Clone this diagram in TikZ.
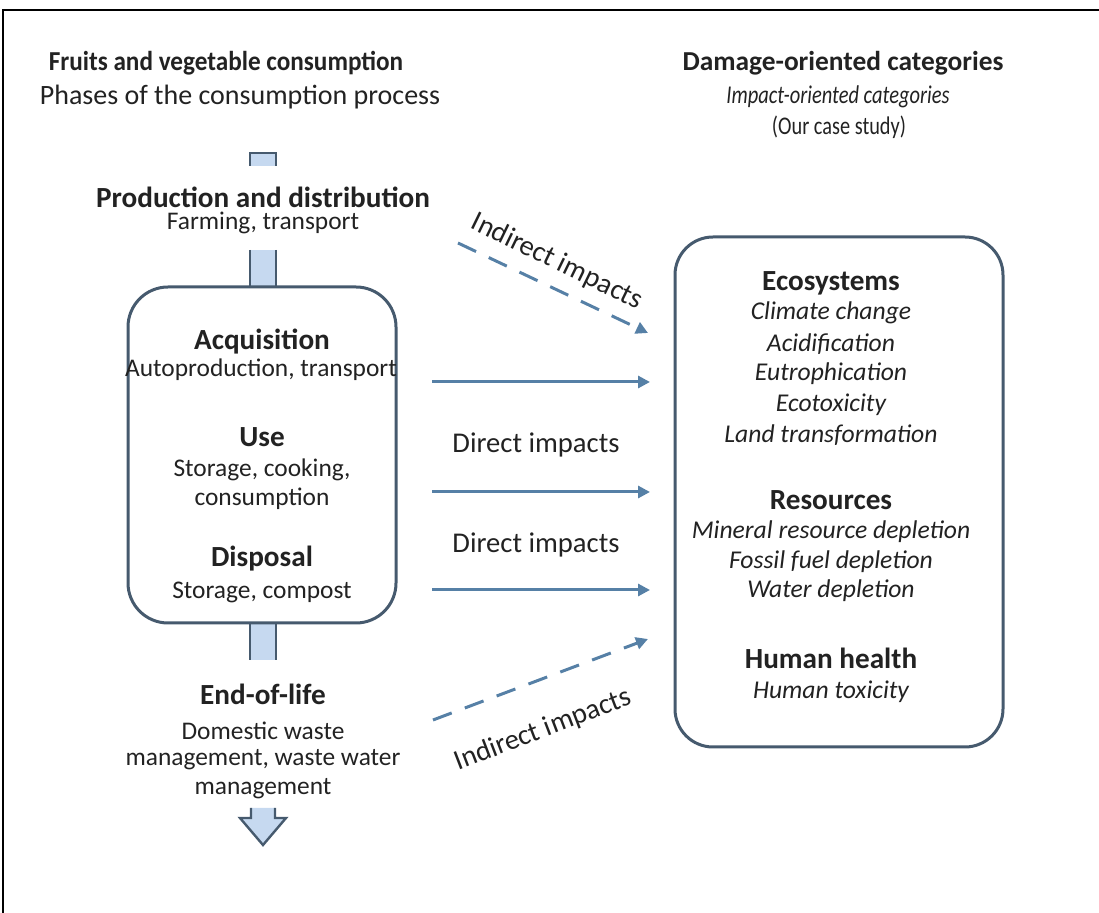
\documentclass[tikz,border=0pt]{standalone}
\usepackage{fontspec}
\setmainfont{Carlito}
\usetikzlibrary{arrows.meta,calc}
\definecolor{boxc}{HTML}{465A6E}
\definecolor{arrc}{HTML}{5680A6}
\definecolor{fillc}{HTML}{C6D9F0}
\definecolor{txt}{HTML}{222222}
\tikzset{
  hd/.style={font=\fontsize{14.6}{16}\selectfont\bfseries, text=txt, inner sep=0pt},
  tl/.style={font=\fontsize{13.7}{16}\selectfont\bfseries, text=txt, inner sep=0pt},
  sb/.style={font=\fontsize{12.7}{14}\selectfont, text=txt, inner sep=0pt},
  it/.style={font=\fontsize{12.8}{14}\selectfont\itshape, text=txt, inner sep=0pt},
  lbl/.style={font=\fontsize{14.3}{16}\selectfont, text=txt, inner sep=0pt},
  roundbox/.style={draw=boxc, line width=1.5pt, fill=white},
  solidarr/.style={draw=arrc, line width=1.5pt, -{Triangle[length=6pt,width=6pt]}},
  dasharr/.style={draw=arrc, line width=1.5pt, dash pattern=on 10pt off 7pt, -{Triangle[length=6pt,width=6pt]}},
  barc/.style={draw=boxc, line width=1.2pt},
}
\begin{document}
\begin{tikzpicture}[x=0.5pt,y=-0.5pt]
\useasboundingbox (0,0) rectangle (1099,913);
\draw[line width=1pt] (3,913) -- (3,10) -- (1099,10);

% headings
\node[tl] (t1) at (226,63) {\scalebox{0.92}[1]{Fruits and vegetable consumption}};
\node[sb, font=\fontsize{14}{16}\selectfont] (t2) at (240,97) {Phases of the consumption process};
\node[tl] (t3) at (843,63) {Damage-oriented categories};
\node[it] (t4) at (838,97) {\scalebox{0.8}[1]{Impact-oriented categories}};
\node[sb] (t5) at (839,127) {\scalebox{0.8}[1]{(Our case study)}};

% block arrow pieces
\fill[fillc] (250,153) rectangle (276,166);
\draw[barc] (250,166) -- (250,153) -- (276,153) -- (276,166);
\fill[fillc] (250,250) rectangle (276,287);
\draw[barc] (250,250) -- (250,287) (276,250) -- (276,287);
\fill[fillc] (250,623) rectangle (276,660);
\draw[barc] (250,623) -- (250,660) (276,623) -- (276,660);
\draw[barc, fill=fillc] (251,808) -- (251,818) -- (240,818) -- (263,845) -- (286,818) -- (275,818) -- (275,808);

\node[hd] (prod) at (263,197) {Production and distribution};
\node[sb] (farm) at (263,223) {Farming, transport};

% left box
\node[roundbox, rounded corners=20pt, minimum width=134pt, minimum height=168pt] (lbox) at (262,455) {};
\node[hd] (acq) at (262,342) {Acquisition};
\node[sb] (acqs) at (261,370) {Autoproduction, transport};
\node[hd] (use) at (262,437) {Use};
\node[sb] (uses1) at (262,470) {Storage, cooking,};
\node[sb] (uses2) at (262,499) {consumption};
\node[hd] (disp) at (262,559) {Disposal};
\node[sb] (disps) at (262,592) {Storage, compost};

% end of life
\node[hd] (eol) at (263,694) {End-of-life};
\node[sb] (eol1) at (263,731) {Domestic waste};
\node[sb] (eol2) at (263,760) {management, waste water};
\node[sb] (eol3) at (263,789) {management};

% right box
\node[roundbox, rounded corners=19pt, minimum width=164pt, minimum height=255pt] (rbox) at (839,492) {};
\node[hd] (eco) at (831,283) {Ecosystems};
\node[it] (e1) at (831,313) {Climate change};
\node[it] (e2) at (831,344) {Acidification};
\node[it] (e3) at (831,374) {Eutrophication};
\node[it] (e4) at (831,405) {Ecotoxicity};
\node[it] (e5) at (831,435) {Land transformation};
\node[hd] (res) at (831,500) {Resources};
\node[it] (r1) at (831,532) {Mineral resource depletion};
\node[it] (r2) at (831,562) {Fossil fuel depletion};
\node[it] (r3) at (831,591) {Water depletion};
\node[hd] (hh) at (831,658) {Human health};
\node[it] (h1) at (831,692) {Human toxicity};

% connectors
\coordinate (a1s) at (432,382); \coordinate (a1e) at (650,382);
\coordinate (a2s) at (432,492); \coordinate (a2e) at (650,492);
\coordinate (a3s) at (432,590); \coordinate (a3e) at (650,590);
\coordinate (d1s) at (458,243); \coordinate (d1e) at (648,333);
\coordinate (d2s) at (433,720); \coordinate (d2e) at (648,639);
\draw[solidarr] (a1s) -- (a1e);
\draw[solidarr] (a2s) -- (a2e);
\draw[solidarr] (a3s) -- (a3e);
\draw[dasharr] (d1s) -- (d1e);
\draw[dasharr] (d2s) -- (d2e);

\node[lbl] (di1) at (536,445) {Direct impacts};
\node[lbl] (di2) at (536,545) {Direct impacts};
\node[lbl, rotate=-26] (ii1) at (557,262) {Indirect impacts};
\node[lbl, rotate=21] (ii2) at (543,730) {Indirect impacts};
\end{tikzpicture}
\end{document}
